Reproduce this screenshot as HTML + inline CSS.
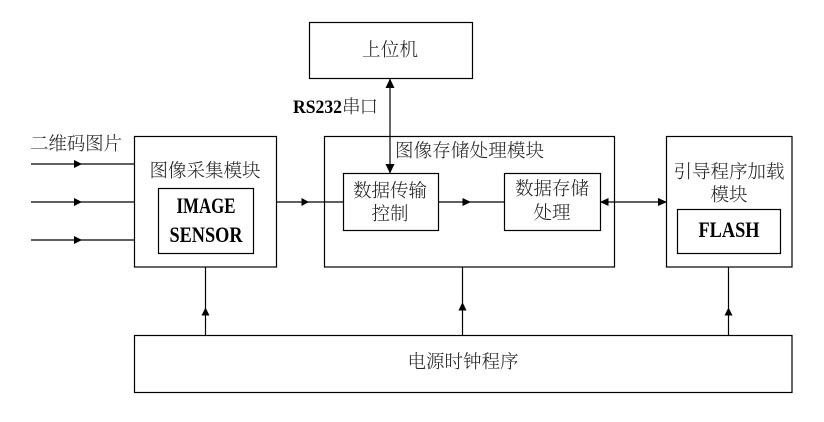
<!DOCTYPE html>
<html><head><meta charset="utf-8">
<style>
html,body{margin:0;padding:0;background:#fff}
svg{display:block}
.c{font-family:"Liberation Serif","Noto Serif CJK SC",serif;font-size:18.5px;fill:#222;text-anchor:middle;font-weight:300}
.b{font-family:"Liberation Serif","Noto Serif CJK SC",serif;font-size:22px;font-weight:bold;fill:#000;text-anchor:middle}
rect{fill:none;stroke:#000;stroke-width:1.2}
line{stroke:#000;stroke-width:1.2}
polygon{fill:#000}
</style></head><body>
<svg width="824" height="422" viewBox="0 0 824 422" xmlns="http://www.w3.org/2000/svg">
<rect x="309.5" y="22.5" width="163" height="56"/>
<rect x="134.5" y="136.5" width="142" height="130.5"/>
<rect x="158.5" y="188.5" width="95" height="65"/>
<rect x="324.5" y="136.5" width="290" height="130.5"/>
<rect x="343.5" y="173.5" width="95" height="57"/>
<rect x="504.5" y="173.5" width="96" height="57"/>
<rect x="666.5" y="136.5" width="125.5" height="130.5"/>
<rect x="677.5" y="209.5" width="103" height="44"/>
<rect x="134.5" y="335.5" width="657.5" height="57"/>

<line x1="31" y1="164" x2="134" y2="164"/>
<line x1="31" y1="202" x2="134" y2="202"/>
<line x1="31" y1="240" x2="134" y2="240"/>
<polygon points="74,160 82,164 74,168"/>
<polygon points="74,198 82,202 74,206"/>
<polygon points="74,236 82,240 74,244"/>

<line x1="277" y1="202" x2="343" y2="202"/>
<polygon points="301.500,198 309,202 301.500,206"/>
<line x1="439" y1="202" x2="504" y2="202"/>
<polygon points="462.500,198 471,202 462.500,206"/>
<line x1="601" y1="202" x2="666" y2="202"/>
<polygon points="608.500,198 600,202 608.500,206"/>
<polygon points="658,198 667,202 658,206"/>

<line x1="390" y1="79" x2="390" y2="173"/>
<polygon points="385.500,88 390,78.500 394.500,88"/>
<polygon points="385.500,164 390,173.500 394.500,164"/>

<line x1="205.500" y1="267" x2="205.500" y2="335"/>
<polygon points="201.500,315.500 205.500,307.500 209.500,315.500"/>
<line x1="462.500" y1="267" x2="462.500" y2="335"/>
<polygon points="458.500,310.500 462.500,302 466.500,310.500"/>
<line x1="728.500" y1="267" x2="728.500" y2="335"/>
<polygon points="724.500,315.500 728.500,307.500 732.500,315.500"/>

<text class="c" x="390" y="56" textLength="56">上位机</text>
<text x="293" y="113" font-family="Liberation Serif" font-size="19" font-weight="bold" textLength="49" lengthAdjust="spacingAndGlyphs">RS232</text>
<text class="c" x="360" y="113" textLength="36">串口</text>
<text class="c" x="76" y="150" textLength="92">二维码图片</text>
<text class="c" x="205" y="177" textLength="111">图像采集模块</text>
<text class="b" x="206" y="213" textLength="59" lengthAdjust="spacingAndGlyphs">IMAGE</text>
<text class="b" x="206" y="242" textLength="73" lengthAdjust="spacingAndGlyphs">SENSOR</text>
<text class="c" x="469.500" y="157" textLength="149">图像存储处理模块</text>
<text class="c" x="390" y="197" textLength="74">数据传输</text>
<text class="c" x="390" y="220" textLength="37">控制</text>
<text class="c" x="552" y="195" textLength="74">数据存储</text>
<text class="c" x="552" y="219" textLength="37">处理</text>
<text class="c" x="729" y="178" textLength="111">引导程序加载</text>
<text class="c" x="729" y="201" textLength="37">模块</text>
<text class="b" x="729" y="237" textLength="61" lengthAdjust="spacingAndGlyphs">FLASH</text>
<text class="c" x="463" y="368" textLength="111">电源时钟程序</text>
</svg>
</body></html>
